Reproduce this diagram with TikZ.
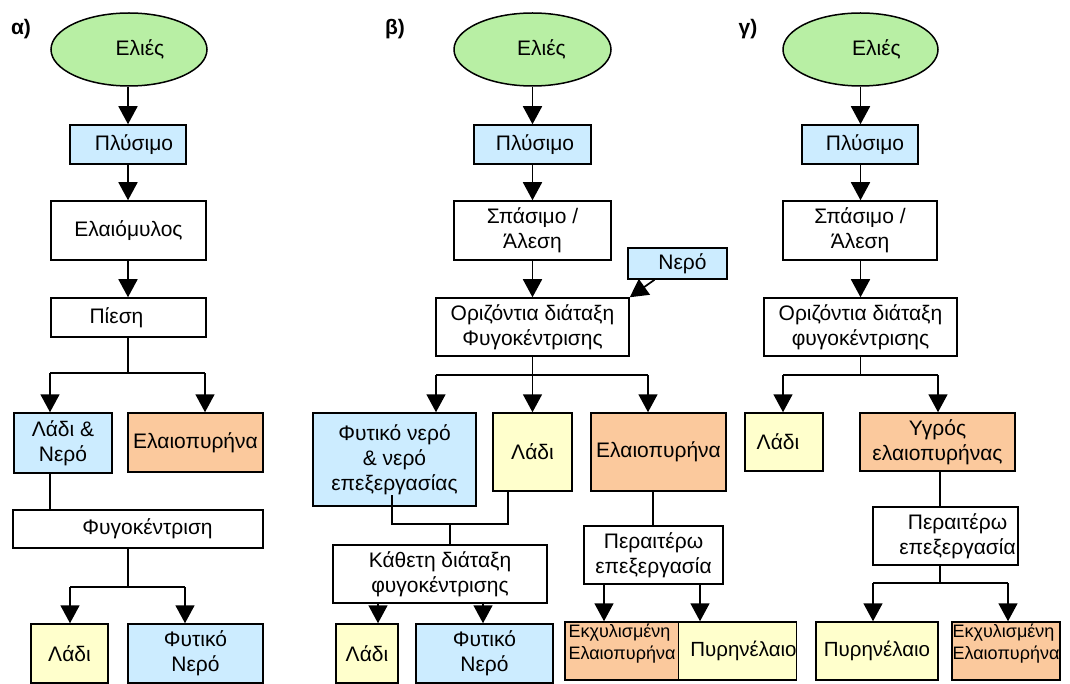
\documentclass[tikz,border=0pt]{standalone}
\usepackage{fontspec}
\setmainfont{Liberation Sans}
\usetikzlibrary{arrows.meta,shapes.geometric,calc}
\definecolor{cgreen}{HTML}{B8EFA4}
\definecolor{cblue}{HTML}{CCECFF}
\definecolor{cyellow}{HTML}{FFFFCC}
\definecolor{corange}{HTML}{FBC99D}
\begin{document}
\begin{tikzpicture}[x=1pt,y=-1pt,
  every node/.style={font=\fontsize{21}{25}\selectfont, text=black},
  box/.style={draw, line width=1.5pt, inner sep=1pt, align=center},
  sz/.style 2 args={minimum width=#1pt, minimum height=#2pt},
  ell/.style={ellipse, draw, line width=1.5pt, fill=cgreen, inner sep=0pt},
  ln/.style={line width=1.7pt},
  arr/.style={line width=1.7pt, -{Triangle[length=18pt,width=19pt]}},
  lab/.style={font=\fontsize{21}{24}\selectfont\bfseries},
  small/.style={font=\fontsize{18}{22}\selectfont, inner sep=0pt},
  mid/.style={font=\fontsize{20.5}{24}\selectfont, inner sep=0pt}
]
\useasboundingbox[fill=white] (0,0) rectangle (1070,684);

% ---------------- panel alpha ----------------
\node[lab] (lA) at (21,29) {α)};
\node[ell, sz={156}{73}] (eA) at (129,49.5) {\hspace*{22pt}Ελιές};
\node[box, fill=cblue, sz={116}{39}] (pA) at (128,144.5) {\hspace*{12pt}Πλύσιμο};
\node[box, sz={155}{59}] (mA) at (128.5,230.5) {Ελαιόμυλος};
\node[box, sz={155}{39}] (sA) at (128.5,317.5) {Πίεση\hspace*{24pt}};
\node[box, fill=cblue, sz={98}{60}] (wA) at (63,443) {Λάδι \&\\Νερό};
\node[box, fill=corange, sz={135}{59}] (oA) at (195.5,442.5) {Ελαιοπυρήνα};
\node[box, sz={250}{38}] (fA) at (138,529) {\hspace*{19pt}Φυγοκέντριση};
\node[box, fill=cyellow, sz={77}{59}] (lA2) at (69.5,653.5) {Λάδι};
\node[box, fill=cblue, sz={135}{59}] (nA) at (195.5,653.5) {Φυτικό\\Νερό};

\coordinate (cA) at (128,0);
\draw[arr] (eA.south -| cA) -- (cA |- pA.north);
\draw[arr] (pA.south -| cA) -- (cA |- mA.north);
\draw[arr] (mA.south -| cA) -- (cA |- sA.north);
\coordinate (jA0) at (128,373);
\coordinate (jA1) at (50,373);
\coordinate (jA2) at (205,373);
\draw[ln] (sA.south -| jA0) -- (jA0);
\draw[ln] (jA1) -- (jA2);
\draw[arr] (jA1) -- (jA1 |- wA.north);
\draw[arr] (jA2) -- (jA2 |- oA.north);
\draw[ln] (wA.south -| jA1) -- (jA1 |- fA.north);
\coordinate (dA) at (128,587);
\coordinate (jA3) at (70,587);
\coordinate (jA4) at (185,587);
\draw[ln] (fA.south -| dA) -- (dA);
\draw[ln] (jA3) -- (jA4);
\draw[arr] (jA3) -- (jA3 |- lA2.north);
\draw[arr] (jA4) -- (jA4 |- nA.north);

% ---------------- panel beta ----------------
\node[lab] (lB) at (395,29) {β)};
\node[ell, sz={157}{73}] (eB) at (532.5,49.5) {\hspace*{18pt}Ελιές};
\node[box, fill=cblue, sz={117}{39}] (pB) at (532.5,144.5) {\hspace*{5pt}Πλύσιμο};
\node[box, sz={157}{59}] (sB) at (532.5,230.5) {Σπάσιμο /\\Άλεση};
\node[box, fill=cblue, sz={99}{31}] (nB) at (677.5,263.5) {\hspace*{10pt}Νερό};
\node[box, sz={193}{58}] (hB) at (532.5,327) {Οριζόντια διάταξη\\Φυγοκέντρισης};
\node[box, fill=cblue, sz={163}{93}] (fB) at (394.5,459.5) {Φυτικό νερό\\\& νερό\\επεξεργασίας};
\node[box, fill=cyellow, sz={79}{78}] (lB2) at (532.5,452) {Λάδι};
\node[box, fill=corange, sz={135}{78}] (oB) at (658.5,452) {Ελαιοπυρήνα};
\node[box, sz={214}{58}] (kB) at (440,574) {Κάθετη διάταξη\\φυγοκέντρισης};
\node[box, fill=cyellow, sz={62}{59}] (lB3) at (367,653.5) {Λάδι};
\node[box, fill=cblue, sz={137}{59}] (nB2) at (484.5,653.5) {Φυτικό\\Νερό};
\node[box, sz={139}{58}] (rB) at (653.5,555) {Περαιτέρω\\επεξεργασία};
\node[box, fill=corange, sz={114}{58}, small, align=left] (xB) at (622,651) {Εκχυλισμένη\\Ελαιοπυρήνα\rule[-18pt]{0pt}{1pt}};
\node[box, fill=cyellow, sz={117}{58}, mid] (yB) at (737.5,651) {\hspace*{12pt}Πυρηνέλαιο};

\draw[arr] (eB) -- (pB);
\draw[arr] (pB) -- (sB);
\draw[arr] (sB) -- (hB);
\draw[arr] (nB) -- (hB.north east);
\coordinate (jB0) at (532.5,375);
\coordinate (jB1) at (436,375);
\coordinate (jB2) at (648,375);
\draw[ln] (hB) -- (jB0);
\draw[ln] (jB1) -- (jB2);
\draw[arr] (jB1) -- (jB1 |- fB.north);
\draw[arr] (jB0) -- (lB2);
\draw[arr] (jB2) -- (jB2 |- oB.north);
\coordinate (fBin) at (392,495);
\coordinate (mB) at (450,524);
\coordinate (xBr) at (508,524);
\draw[ln] (fBin) |- (xBr) -- (xBr |- lB2.south);
\draw[ln] (mB) -- (mB |- kB.north);
\coordinate (aB1) at (378,0);
\coordinate (aB2) at (483,0);
\draw[arr] (kB.south -| aB1) -- (aB1 |- lB3.north);
\draw[arr] ($(kB.south -| aB2)+(0,-2)$) -- (aB2 |- nB2.north);
\coordinate (cB) at (653,0);
\draw[ln] (oB.south -| cB) -- (cB |- rB.north);
\coordinate (aB3) at (604,0);
\coordinate (aB4) at (700,0);
\draw[arr] (rB.south -| aB3) -- (aB3 |- xB.north);
\draw[arr] (rB.south -| aB4) -- (aB4 |- yB.north);

% ---------------- panel gamma ----------------
\node[lab] (lC) at (748,29) {γ)};
\node[ell, sz={155}{73}] (eC) at (860.5,49.5) {\hspace*{32pt}Ελιές};
\node[box, fill=cblue, sz={116}{39}] (pC) at (860,144.5) {\hspace*{10pt}Πλύσιμο};
\node[box, sz={154}{59}] (sC) at (860,230.5) {Σπάσιμο /\\Άλεση};
\node[box, sz={193}{58}] (hC) at (860.5,327) {Οριζόντια διάταξη\\φυγοκέντρισης};
\node[box, fill=cyellow, sz={78}{58}] (lC2) at (784,442) {Λάδι\hspace*{12pt}};
\node[box, fill=corange, sz={155}{58}] (uC) at (937.5,442) {Υγρός\\ελαιοπυρήνας};
\node[box, sz={145}{58}] (rC) at (945.5,536) {\hspace*{24pt}Περαιτέρω\\\hspace*{24pt}επεξεργασία};
\node[box, fill=cyellow, sz={122}{58}, mid] (yC) at (877,651) {Πυρηνέλαιο};
\node[box, fill=corange, sz={108}{58}, small, align=left] (xC) at (1006,651) {Εκχυλισμένη\\Ελαιοπυρήνα\rule[-18pt]{0pt}{1pt}};

\coordinate (cC0) at (860.5,0);
\draw[arr] (eC.south -| cC0) -- (cC0 |- pC.north);
\draw[arr] (pC.south -| cC0) -- (cC0 |- sC.north);
\draw[arr] (sC.south -| cC0) -- (cC0 |- hC.north);
\coordinate (jC0) at (860.5,375);
\coordinate (jC1) at (783,375);
\coordinate (jC2) at (938,375);
\draw[ln] (hC.south -| jC0) -- (jC0);
\draw[ln] (jC1) -- (jC2);
\draw[arr] (jC1) -- (jC1 |- lC2.north);
\draw[arr] (jC2) -- (jC2 |- uC.north);
\coordinate (cC) at (940,0);
\draw[ln] (uC.south -| cC) -- (cC |- rC.north);
\coordinate (jC3) at (873,583);
\coordinate (jC4) at (1008,583);
\draw[ln] (rC.south -| cC) -- (cC |- jC3);
\draw[ln] (jC3) -- (jC4);
\draw[arr] (jC3) -- (jC3 |- yC.north);
\draw[arr] (jC4) -- (jC4 |- xC.north);
\end{tikzpicture}
\end{document}
